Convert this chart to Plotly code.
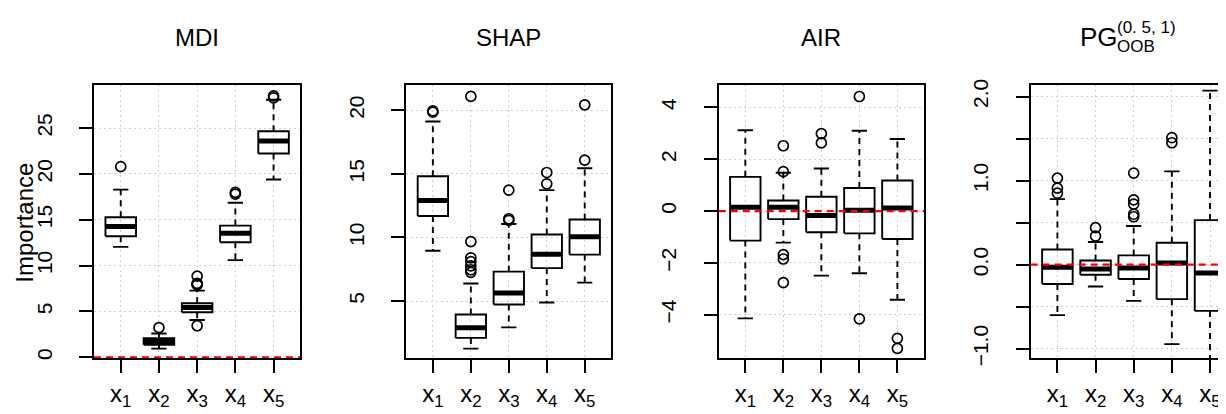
import plotly.graph_objects as go

W, H = 1226, 414
FONT = "Liberation Sans, Arial, Helvetica, sans-serif"

categories = [1, 2, 3, 4, 5]
x_tick_text = ["x<sub>1</sub>", "x<sub>2</sub>", "x<sub>3</sub>", "x<sub>4</sub>", "x<sub>5</sub>"]

# ---- MDI ----
mdi_lw = [12.04, 0.95, 4.07, 10.6, 19.39]
mdi_q1 = [13.2, 1.37, 4.91, 12.54, 22.23]
mdi_med = [14.26, 1.72, 5.44, 13.52, 23.6]
mdi_q3 = [15.28, 2.07, 5.9, 14.36, 24.65]
mdi_uw = [18.29, 2.6, 7.27, 16.86, 28.09]
mdi_out = [[20.79], [3.23], [8.85, 8.07, 7.95, 7.9, 3.44], [17.98, 17.8], [28.51, 28.3]]
mdi_yticks = [0, 5, 10, 15, 20, 25]
mdi_yticktext = ["0", "5", "10", "15", "20", "25"]

# ---- SHAP ----
shap_lw = [8.96, 1.26, 2.93, 4.88, 6.45]
shap_q1 = [11.69, 2.1, 4.73, 7.59, 8.65]
shap_med = [12.91, 2.9, 5.64, 8.68, 10.05]
shap_q3 = [14.81, 3.94, 7.31, 10.23, 11.41]
shap_uw = [19.12, 6.38, 11.06, 13.72, 15.44]
shap_out = [[19.95, 19.85], [21.09, 9.67, 8.40, 8.1, 7.77, 7.46, 7.26],
            [13.72, 11.47, 11.35], [15.11, 14.22], [20.43, 16.08]]
shap_yticks = [5, 10, 15, 20]
shap_yticktext = ["5", "10", "15", "20"]

# ---- AIR ----
air_lw = [-4.14, -1.22, -2.49, -2.4, -3.42]
air_q1 = [-1.14, -0.31, -0.82, -0.86, -1.08]
air_med = [0.15, 0.15, -0.17, 0.03, 0.12]
air_q3 = [1.32, 0.41, 0.55, 0.89, 1.18]
air_uw = [3.12, 1.48, 1.64, 3.1, 2.78]
air_out = [[], [2.52, 1.52, -1.68, -1.85, -2.76], [2.99, 2.63], [4.42, -4.16], [-4.91, -5.30]]
air_yticks = [-4, -2, 0, 2, 4]
air_yticktext = ["\u22124", "\u22122", "0", "2", "4"]

# ---- PG OOB ----
pg_lw = [-0.60, -0.26, -0.43, -0.945, -1.25]
pg_q1 = [-0.23, -0.12, -0.17, -0.41, -0.55]
pg_med = [-0.03, -0.05, -0.04, 0.02, -0.10]
pg_q3 = [0.18, 0.05, 0.11, 0.26, 0.53]
pg_uw = [0.78, 0.27, 0.46, 1.11, 2.07]
pg_out = [[1.03, 0.91, 0.85], [0.44, 0.34], [1.09, 0.77, 0.72, 0.60, 0.57], [1.51, 1.45], []]
pg_yticks = [-1.0, -0.5, 0.0, 0.5, 1.0, 1.5, 2.0]
pg_yticktext = ["\u22121.0", "", "0.0", "", "1.0", "", "2.0"]

panels = [
    dict(title="MDI", lw=mdi_lw, q1=mdi_q1, med=mdi_med, q3=mdi_q3, uw=mdi_uw, out=mdi_out,
         yt=mdi_yticks, ytt=mdi_yticktext, yr=[-0.105, 29.64], xpx=(86, 292.3), xr=[0.3, 5.7], ref0=True, mirror=True),
    dict(title="SHAP", lw=shap_lw, q1=shap_q1, med=shap_med, q3=shap_q3, uw=shap_uw, out=shap_out,
         yt=shap_yticks, ytt=shap_yticktext, yr=[0.50, 21.95], xpx=(398.3, 603.3), xr=[0.3, 5.7], ref0=False, mirror=True),
    dict(title="AIR", lw=air_lw, q1=air_q1, med=air_med, q3=air_q3, uw=air_uw, out=air_out,
         yt=air_yticks, ytt=air_yticktext, yr=[-5.68, 4.845], xpx=(710.7, 916), xr=[0.3, 5.7], ref0=True, mirror=True),
    dict(title=None, lw=pg_lw, q1=pg_q1, med=pg_med, q3=pg_q3, uw=pg_uw, out=pg_out,
         yt=pg_yticks, ytt=pg_yticktext, yr=[-1.113, 2.131], xpx=(1022.7, 1226), xr=[0.3, 5.629], ref0=True, mirror=False),
]

Y_TOP, Y_BOT = 74, 356.3
ydom = [(H - Y_BOT) / H, (H - Y_TOP) / H]

fig = go.Figure()
HALF, CAP = 0.4, 0.2
LINE = 1.9

for k, p in enumerate(panels):
    sfx = "" if k == 0 else str(k + 1)
    xa, ya = "x" + sfx, "y" + sfx
    bx, by, wx, wy, cx, cy, mx, my, ox, oy = [], [], [], [], [], [], [], [], [], []
    for i, xi in enumerate(categories):
        bx += [xi - HALF, xi + HALF, xi + HALF, xi - HALF, xi - HALF, None]
        by += [p["q1"][i], p["q1"][i], p["q3"][i], p["q3"][i], p["q1"][i], None]
        wx += [xi, xi, None, xi, xi, None]
        wy += [p["q3"][i], p["uw"][i], None, p["q1"][i], p["lw"][i], None]
        cx += [xi - CAP, xi + CAP, None, xi - CAP, xi + CAP, None]
        cy += [p["uw"][i], p["uw"][i], None, p["lw"][i], p["lw"][i], None]
        mx += [xi - HALF, xi + HALF, None]
        my += [p["med"][i], p["med"][i], None]
        for v in p["out"][i]:
            ox.append(xi)
            oy.append(v)
    common = dict(xaxis=xa, yaxis=ya, showlegend=False, hoverinfo="skip")
    fig.add_trace(go.Scatter(x=wx, y=wy, mode="lines", line=dict(color="black", width=LINE, dash="6px,5px"), **common))
    fig.add_trace(go.Scatter(x=bx, y=by, mode="lines", line=dict(color="black", width=LINE), **common))
    fig.add_trace(go.Scatter(x=mx, y=my, mode="lines", line=dict(color="black", width=5), **common))
    fig.add_trace(go.Scatter(x=cx, y=cy, mode="lines", line=dict(color="black", width=LINE), **common))
    fig.add_trace(go.Scatter(x=ox, y=oy, mode="markers",
                             marker=dict(symbol="circle-open", size=10, color="black", line=dict(width=1.7)), **common))

    xdom = [p["xpx"][0] / W, min(1.0, p["xpx"][1] / W)]
    axis_common = dict(showline=True, linecolor="black", linewidth=LINE, ticks="outside",
                       ticklen=13, tickwidth=LINE, tickcolor="black", zeroline=False,
                       showgrid=True, gridcolor="#cfcfcf", gridwidth=1.2, griddash="2px,3px")
    fig.layout["xaxis" + sfx] = dict(domain=xdom, range=p["xr"], anchor=ya, tickmode="array",
                                     tickvals=categories, ticktext=x_tick_text, mirror=True,
                                     tickfont=dict(family=FONT, size=24, color="black"),
                                     ticklabelstandoff=0, **axis_common)
    fig.layout["yaxis" + sfx] = dict(domain=ydom, range=p["yr"], anchor=xa, tickmode="array",
                                     tickvals=p["yt"], ticktext=p["ytt"], tickangle=-90,
                                     mirror=p["mirror"],
                                     tickfont=dict(family=FONT, size=21, color="black"),
                                     ticklabelstandoff=19, **axis_common)
    if p["ref0"]:
        fig.add_shape(type="line", xref=xa + " domain", x0=0, x1=1, yref=ya, y0=0, y1=0,
                      line=dict(color="red", width=2.2, dash="7px,5px"), layer="above")
    if p["title"]:
        fig.add_annotation(text=p["title"], xref="paper", yref="paper",
                           x=(p["xpx"][0] + p["xpx"][1]) / 2 / W, y=1 - 24 / H,
                           xanchor="center", yanchor="middle", showarrow=False,
                           font=dict(family=FONT, size=24, color="black"))

# composite title for 4th panel: PG with stacked sub/superscript
fig.add_annotation(text="PG", xref="paper", yref="paper", x=1070 / W, y=1 - 24 / H,
                   xanchor="left", yanchor="middle", showarrow=False,
                   font=dict(family=FONT, size=26, color="black"))
fig.add_annotation(text="(0. 5, 1)", xref="paper", yref="paper", x=1107 / W, y=1 - 14 / H,
                   xanchor="left", yanchor="middle", showarrow=False,
                   font=dict(family=FONT, size=17, color="black"))
fig.add_annotation(text="OOB", xref="paper", yref="paper", x=1107 / W, y=1 - 34 / H,
                   xanchor="left", yanchor="middle", showarrow=False,
                   font=dict(family=FONT, size=17, color="black"))

# y-axis label
fig.add_annotation(text="Importance", xref="paper", yref="paper", x=17 / W, y=1 - 216 / H,
                   xanchor="center", yanchor="middle", textangle=-90, showarrow=False,
                   font=dict(family=FONT, size=24, color="black"))

fig.update_layout(width=W, height=H, autosize=False, margin=dict(l=0, r=0, t=0, b=0),
                  plot_bgcolor="white", paper_bgcolor="white")

fig.write_html("out.html")
